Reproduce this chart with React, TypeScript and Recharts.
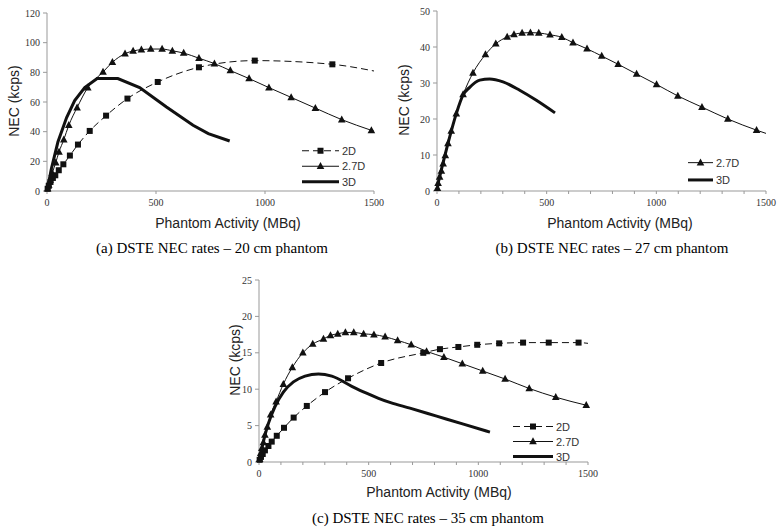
import React from "react";
import { LineChart, Line, XAxis, YAxis } from "recharts";

// [MBq, kcps, marked?] - third entry false = line end without a marker
type Pt = [number, number, boolean?];

// (a) 20 cm phantom
const a2D: Pt[] = [
  [3, 1.5], [8, 3.5], [16, 6.1], [27, 8.8], [38, 10.6], [54, 14], [75, 18], [105, 23.9],
  [142, 31.3], [196, 40.5], [271, 50.8], [369, 62.3], [508, 73.5], [697, 83.4], [953, 87.9],
  [1309, 85.4], [1500, 80.9, false],
];
const a27D: Pt[] = [
  [3, 1.5], [8, 4], [15, 7.5], [24, 12], [40, 19.1], [55, 26.3], [77, 34.6], [100, 44.3],
  [138, 56.2], [187, 69.7], [257, 80.2], [300, 86.8], [358, 92.6], [395, 94.4], [433, 95.3],
  [476, 95.7], [528, 95.7], [575, 94.5], [627, 93], [697, 89.5], [768, 85.9], [841, 81.2],
  [927, 75.8], [1018, 69.7], [1120, 63.1], [1231, 55.9], [1352, 48.1], [1488, 40.9],
  [1500, 40.3, false],
];
const a3D: Pt[] = [
  [0, 0], [20, 15], [50, 33], [90, 49.5], [127, 61], [173, 69.7], [230, 75.8], [325, 75.8],
  [425, 69.7], [548, 56.6], [670, 44.3], [740, 38.7], [838, 33.7],
];

// (b) 27 cm phantom
const b27D: Pt[] = [
  [2, 0.8], [5, 2.2], [12, 3.9], [20, 5.6], [28, 7.6], [38, 9.9], [50, 13.2], [65, 16.7],
  [88, 21.5], [119, 26.8], [164, 32.8], [221, 37.9], [268, 40.9], [320, 42.8], [351, 43.5],
  [388, 43.9], [426, 44.0], [464, 43.9], [515, 43.4], [569, 42.7], [620, 41.2], [684, 39.5],
  [751, 37.5], [826, 35.2], [910, 32.5], [1001, 29.6], [1098, 26.4], [1208, 23.3],
  [1326, 20.0], [1457, 16.9], [1500, 16.0, false],
];
const b3D: Pt[] = [
  [0, 0], [5, 2], [12, 3.9], [25, 7.2], [50, 13.2], [88, 21.5], [119, 26.7], [149, 28.8],
  [195, 30.8], [240, 31.1], [301, 30.3], [377, 28], [453, 25.2], [538, 21.7],
];

// (c) 35 cm phantom
const c2D: Pt[] = [
  [3, 0.3], [9, 0.7], [17, 1.1], [27, 1.6], [43, 2.2], [58, 2.8], [81, 3.6], [114, 4.7],
  [158, 6.1], [218, 7.7], [301, 9.6], [406, 11.5], [557, 13.6], [749, 15.0], [825, 15.5],
  [909, 15.8], [995, 16.1], [1095, 16.3], [1204, 16.4], [1321, 16.4], [1457, 16.4],
  [1500, 16.3, false],
];
const c27D: Pt[] = [
  [3, 0.4], [8, 1.2], [13, 1.9], [20, 2.7], [27, 3.7], [38, 4.8], [53, 6.5], [78, 8.3],
  [111, 10.7], [152, 13.0], [200, 15.0], [245, 16.2], [294, 16.9], [326, 17.4], [359, 17.6],
  [394, 17.8], [432, 17.8], [477, 17.6], [524, 17.5], [575, 17.2], [632, 16.7], [694, 16.1],
  [764, 15.2], [843, 14.4], [927, 13.5], [1020, 12.5], [1122, 11.4], [1232, 10.1],
  [1353, 8.9], [1492, 7.8],
];
const c3D: Pt[] = [
  [0, 0], [10, 1.4], [20, 2.8], [43, 5.3], [73, 7.6], [111, 9.6], [157, 11.0], [210, 11.8],
  [271, 12.1], [332, 11.8], [423, 10.4], [490, 9.45], [545, 8.75], [600, 8.15], [688, 7.4],
  [810, 6.3], [932, 5.2], [1053, 4.1],
];

const xMajorTicks = [0, 500, 1000, 1500];
const xMinorTicks = [0, 100, 200, 300, 400, 500, 600, 700, 800, 900, 1000, 1100, 1200, 1300, 1400, 1500];
const aYTicks = [0, 20, 40, 60, 80, 100, 120];
const bYTicks = [0, 10, 20, 30, 40, 50];
const cYTicks = [0, 5, 10, 15, 20, 25];

const yTitle = "NEC (kcps)";
const xTitle = "Phantom Activity (MBq)";
const captions = [
  "(a) DSTE NEC rates – 20 cm phantom",
  "(b) DSTE NEC rates – 27 cm phantom",
  "(c) DSTE NEC rates – 35 cm phantom",
];

const INK = "#111";
const AXIS = "#999";
const TICK_TEXT = "#333";
const DASH = "7 4";

const rows = (pts: Pt[]) => pts.map(([x, y, m]) => ({ x, y, m: m !== false }));

const squareDot = (props: any) => {
  const { cx, cy, payload, index } = props;
  if (!payload.m || cx == null) return <g key={`s${index}`} />;
  return <rect key={`s${index}`} x={cx - 3} y={cy - 3} width={6} height={6} fill={INK} />;
};

const triangleDot = (props: any) => {
  const { cx, cy, payload, index } = props;
  if (!payload.m || cx == null) return <g key={`t${index}`} />;
  return (
    <path
      key={`t${index}`}
      d={`M${cx},${cy - 4.2} L${cx + 3.8},${cy + 2.8} L${cx - 3.8},${cy + 2.8} Z`}
      fill={INK}
    />
  );
};

type Series = { key: string; label: string; pts: Pt[]; kind: "2D" | "2.7D" | "3D"; curve?: "linear" | "monotone" };

interface PanelProps {
  left: number;
  top: number;
  width: number;
  height: number;
  margin: { top: number; right: number; left: number; bottom: number };
  yMax: number;
  yTicks: number[];
  xTicks: number[];
  series: Series[];
}

function Panel({ left, top, width, height, margin, yMax, yTicks, xTicks, series }: PanelProps) {
  return (
    <div style={{ position: "absolute", left, top }}>
      <LineChart width={width} height={height} margin={margin}>
        <XAxis
          type="number"
          dataKey="x"
          domain={[0, 1500]}
          ticks={xTicks}
          interval={0}
          tickFormatter={(v: number) => (v % 500 === 0 ? String(v) : "")}
          tick={{ fontSize: 10, fill: TICK_TEXT }}
          tickSize={3}
          tickMargin={5}
          axisLine={{ stroke: AXIS }}
          tickLine={{ stroke: AXIS }}
          height={30}
        />
        <YAxis
          type="number"
          domain={[0, yMax]}
          ticks={yTicks}
          interval={0}
          tick={{ fontSize: 10, fill: TICK_TEXT }}
          tickSize={4}
          tickMargin={3}
          axisLine={{ stroke: AXIS }}
          tickLine={{ stroke: AXIS }}
          width={30}
        />
        {series.map((s) => (
          <Line
            key={s.key}
            data={rows(s.pts)}
            dataKey="y"
            type={s.curve ?? "monotone"}
            stroke={INK}
            strokeWidth={s.kind === "3D" ? 3 : 1}
            strokeDasharray={s.kind === "2D" ? DASH : undefined}
            dot={s.kind === "2D" ? squareDot : s.kind === "2.7D" ? triangleDot : false}
            activeDot={false}
            isAnimationActive={false}
          />
        ))}
      </LineChart>
    </div>
  );
}

function LegendBox({ left, top, lineW, gap, items }: { left: number; top: number; lineW: number; gap: number; items: Series[] }) {
  const h = gap * items.length;
  return (
    <svg style={{ position: "absolute", left, top }} width={lineW + 40} height={h}>
      {items.map((s, i) => {
        const y = gap / 2 + i * gap;
        const cx = lineW / 2;
        return (
          <g key={s.key}>
            <line
              x1={0}
              x2={lineW}
              y1={y}
              y2={y}
              stroke={INK}
              strokeWidth={s.kind === "3D" ? 3 : 1}
              strokeDasharray={s.kind === "2D" ? DASH : undefined}
            />
            {s.kind === "2D" && <rect x={cx - 3} y={y - 3} width={6} height={6} fill={INK} />}
            {s.kind === "2.7D" && (
              <path d={`M${cx},${y - 4.2} L${cx + 3.8},${y + 2.8} L${cx - 3.8},${y + 2.8} Z`} fill={INK} />
            )}
            <text x={lineW + 3} y={y + 4} fontSize={11} fill={TICK_TEXT} fontFamily="Liberation Sans, Arial, sans-serif">
              {s.label}
            </text>
          </g>
        );
      })}
    </svg>
  );
}

const textStyle: React.CSSProperties = {
  position: "absolute",
  whiteSpace: "nowrap",
  color: "#222",
  fontFamily: "Liberation Sans, Arial, sans-serif",
  fontSize: 14,
  lineHeight: "16px",
};

function YTitle({ cx, cy }: { cx: number; cy: number }) {
  return (
    <div style={{ ...textStyle, left: cx, top: cy, transform: "translate(-50%, -50%) rotate(-90deg)" }}>{yTitle}</div>
  );
}

function XTitle({ cx, cy }: { cx: number; cy: number }) {
  return <div style={{ ...textStyle, left: cx, top: cy, transform: "translate(-50%, -50%)" }}>{xTitle}</div>;
}

function Caption({ cx, cy, text }: { cx: number; cy: number; text: string }) {
  return (
    <div
      style={{
        ...textStyle,
        left: cx,
        top: cy,
        transform: "translate(-50%, -50%)",
        fontFamily: "Liberation Serif, Times New Roman, serif",
        fontSize: 15,
        color: "#000",
      }}
    >
      {text}
    </div>
  );
}

export default function App() {
  const aSeries: Series[] = [
    { key: "a2", label: "2D", pts: a2D, kind: "2D" },
    { key: "a27", label: "2.7D", pts: a27D, kind: "2.7D" },
    { key: "a3", label: "3D", pts: a3D, kind: "3D", curve: "linear" },
  ];
  const bSeries: Series[] = [
    { key: "b27", label: "2.7D", pts: b27D, kind: "2.7D" },
    { key: "b3", label: "3D", pts: b3D, kind: "3D" },
  ];
  const cSeries: Series[] = [
    { key: "c2", label: "2D", pts: c2D, kind: "2D" },
    { key: "c27", label: "2.7D", pts: c27D, kind: "2.7D" },
    { key: "c3", label: "3D", pts: c3D, kind: "3D" },
  ];

  return (
    <div style={{ position: "absolute", left: 0, top: 0, width: 781, height: 529, background: "#fff", overflow: "hidden" }}>
      <Panel
        left={0}
        top={0}
        width={390}
        height={230}
        margin={{ top: 13, right: 16, left: 17, bottom: 9 }}
        yMax={120}
        yTicks={aYTicks}
        xTicks={xMajorTicks}
        series={aSeries}
      />
      <Panel
        left={390}
        top={0}
        width={391}
        height={230}
        margin={{ top: 11, right: 15, left: 17, bottom: 9 }}
        yMax={50}
        yTicks={bYTicks}
        xTicks={xMinorTicks}
        series={bSeries}
      />
      <Panel
        left={200}
        top={240}
        width={400}
        height={260}
        margin={{ top: 40, right: 12, left: 29, bottom: 8 }}
        yMax={25}
        yTicks={cYTicks}
        xTicks={xMinorTicks}
        series={cSeries}
      />

      <LegendBox left={302} top={143} lineW={37} gap={15.5} items={aSeries} />
      <LegendBox left={688} top={154} lineW={25} gap={17.3} items={bSeries} />
      <LegendBox left={513} top={419} lineW={40} gap={15} items={cSeries} />

      <YTitle cx={14} cy={101} />
      <YTitle cx={404} cy={100} />
      <YTitle cx={235} cy={360} />
      <XTitle cx={228} cy={223} />
      <XTitle cx={620} cy={223} />
      <XTitle cx={439} cy={492} />
      <Caption cx={212} cy={248} text={captions[0]} />
      <Caption cx={612} cy={248} text={captions[1]} />
      <Caption cx={428} cy={518} text={captions[2]} />
    </div>
  );
}
